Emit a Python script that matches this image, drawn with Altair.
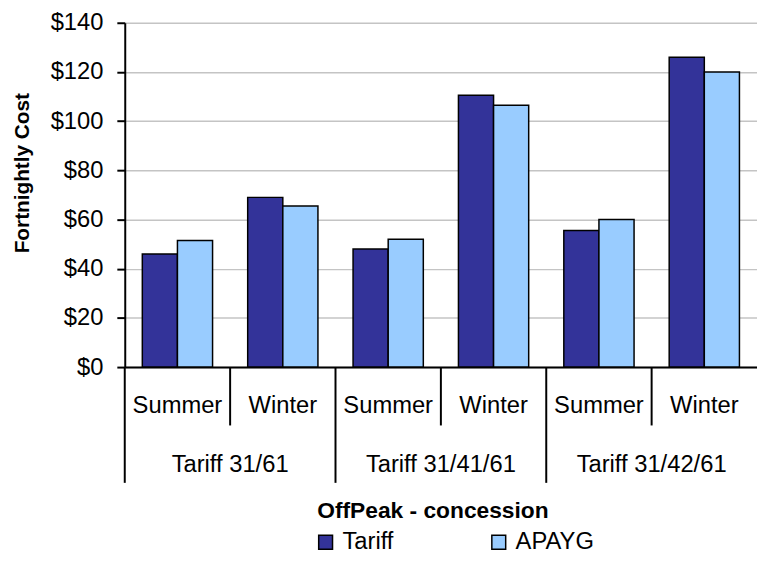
import altair as alt
import pandas as pd

tariffs = ["Tariff 31/61", "Tariff 31/41/61", "Tariff 31/42/61"]
seasons = ["Summer", "Winter"]
series = ["Tariff", "APAYG"]
tariff_values = [46, 69, 48, 110.5, 55.5, 126]
apayg_values = [51.5, 65.5, 52, 106.5, 60, 120]
y_ticks = [0, 20, 40, 60, 80, 100, 120, 140]
colors = ["#333399", "#99CCFF"]

keys, rows, cat_rows = [], [], []
for i, t in enumerate(tariffs):
    for j, s in enumerate(seasons):
        k = f"{t}|{s}"
        keys.append(k)
        idx = i * 2 + j
        cat_rows.append({"key": k, "tariff": t, "season": s})
        rows.append({"key": k, "tariff": t, "season": s, "series": "Tariff", "cost": tariff_values[idx]})
        rows.append({"key": k, "tariff": t, "season": s, "series": "APAYG", "cost": apayg_values[idx]})
df = pd.DataFrame(rows)
cats = pd.DataFrame(cat_rows)

FONT = "Liberation Sans"
FS = 24
TOP = 20          # page y of plot top
BOTTOM = 368      # page y of plot bottom
W, H = 639, BOTTOM - TOP

x_axis = alt.Axis(
    ticks=False, labelExpr="split(datum.label, '|')[1]", labelFontSize=FS, labelAngle=0,
    labelAlign="center", labelBaseline="middle", labelPadding=39, labelOverlap=False,
    labelColor="black", domainColor="black", domainWidth=2, titleFontSize=23,
    titleFontWeight="bold", titleX=311, titleY=145, titleBaseline="middle",
    titleAlign="center", titleColor="black",
)
x_scale = alt.Scale(domain=keys, paddingInner=0, paddingOuter=0)


def xenc(**kw):
    return alt.X("key:N", scale=x_scale, axis=x_axis, title="OffPeak - concession", **kw)


bars = alt.Chart(df).mark_bar(stroke="black", strokeWidth=1.5).encode(
    x=xenc(),
    xOffset=alt.XOffset("series:N", scale=alt.Scale(domain=series, paddingInner=0, paddingOuter=0.5)),
    y=alt.Y("cost:Q", scale=alt.Scale(domain=[0, 140], nice=False, zero=True),
            title="Fortnightly Cost",
            axis=alt.Axis(values=y_ticks, labelExpr="'$' + datum.value", grid=True,
                          gridColor="#c4c4c4", gridWidth=1.5, domainColor="black", domainWidth=2,
                          tickColor="black", tickWidth=2, tickSize=8, labelFontSize=FS,
                          labelPadding=14, labelColor="black", titleFontSize=21,
                          titleFontWeight="bold", titleX=-97, titleY=171.5 - TOP, titleAngle=270,
                          titleAlign="center", titleBaseline="alphabetic", titleColor="black")),
    color=alt.Color("series:N", scale=alt.Scale(domain=series, range=colors),
                    legend=alt.Legend(orient="none", legendX=191, legendY=513,
                                      direction="horizontal", columns=2, columnPadding=94,
                                      symbolType="square", symbolSize=196,
                                      symbolStrokeColor="black", symbolStrokeWidth=1.5,
                                      labelFontSize=FS, labelOffset=5, labelColor="black",
                                      title=None, padding=0)),
)

long_rules = alt.Chart(cats).transform_filter(alt.datum.season == "Summer").mark_rule(
    color="black", strokeWidth=2).encode(
    x=xenc(bandPosition=0), y=alt.value(H), y2=alt.value(485 - TOP))

short_rules = alt.Chart(cats).transform_filter(alt.datum.season == "Winter").mark_rule(
    color="black", strokeWidth=2).encode(
    x=xenc(bandPosition=0), y=alt.value(H), y2=alt.value(427 - TOP))

group_labels = alt.Chart(cats).transform_filter(alt.datum.season == "Winter").mark_text(
    fontSize=FS, baseline="middle", align="center", color="black").encode(
    x=xenc(bandPosition=0), y=alt.value(467 - TOP), text="tariff:N")

chart = alt.layer(bars, long_rules, short_rules, group_labels).properties(
    width=W, height=H,
    autosize=alt.AutoSizeParams(type="none"),
    padding={"left": 118, "top": TOP - 8, "right": 0, "bottom": 554 - BOTTOM},
).configure(font=FONT).configure_view(stroke=None)

chart.save("out.html", embed_options={"renderer": "svg", "actions": False})
